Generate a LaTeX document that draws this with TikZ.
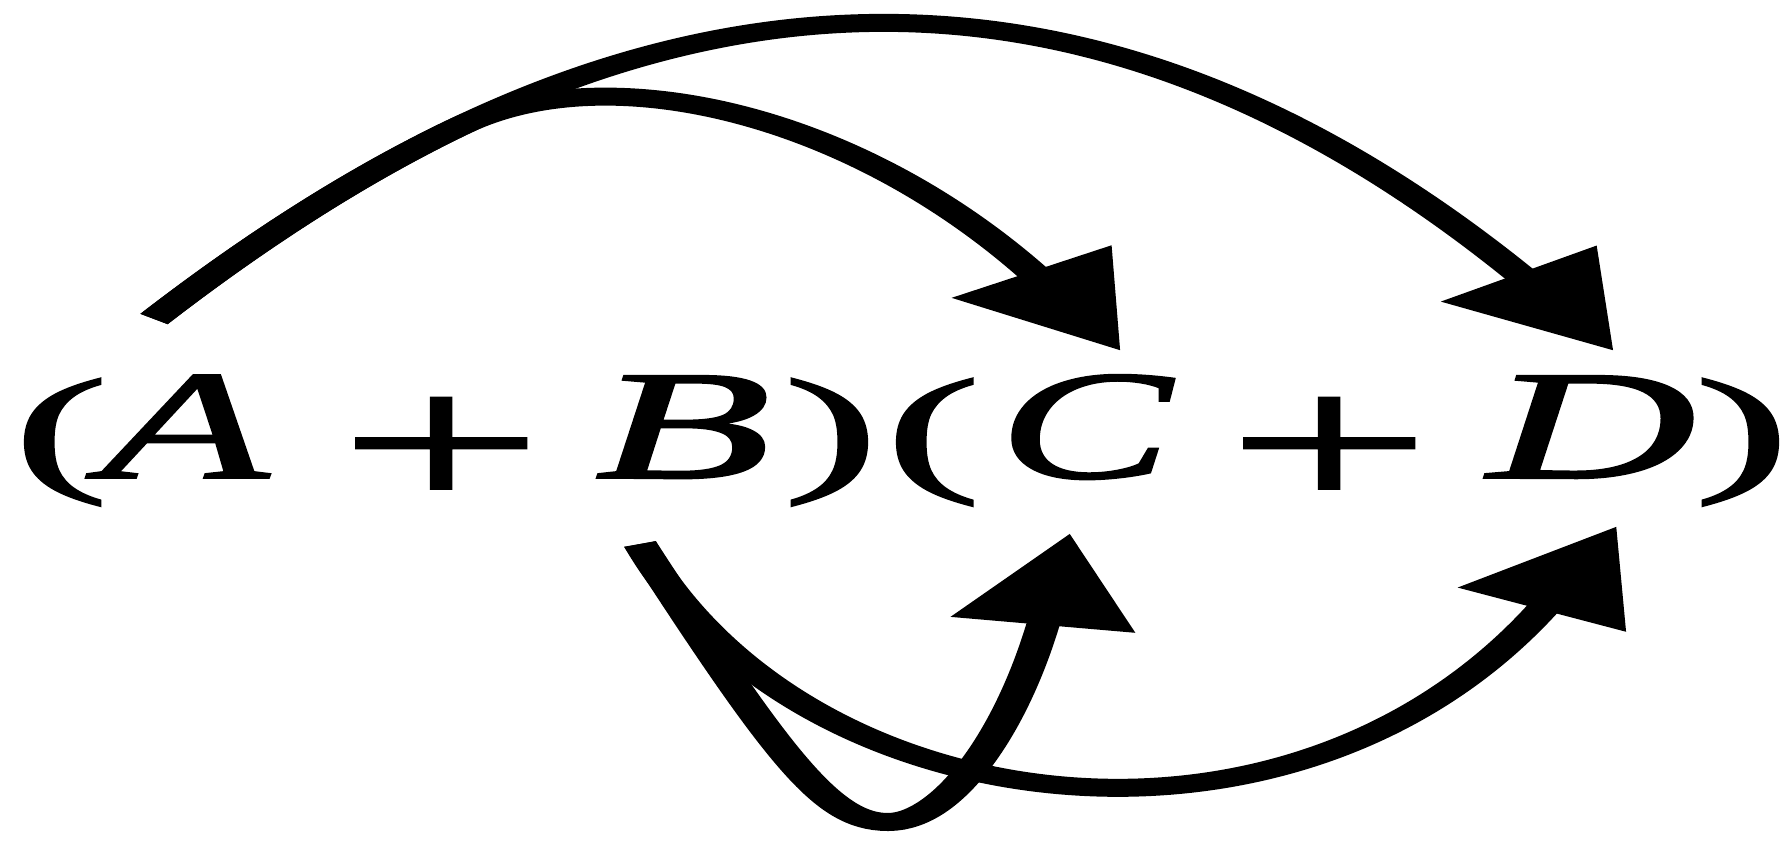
\documentclass[tikz,border=0pt]{standalone}
\usepackage{fontspec}
\setmainfont{Liberation Serif}[FakeBold=1.2]
\usetikzlibrary{arrows.meta}
\newcommand{\parglyph}[1]{\makebox[0.25em]{\scalebox{1}[0.9]{#1}}}
\begin{document}
\begin{tikzpicture}[x=1pt,y=-1pt]
\useasboundingbox[fill=white] (0,0) rectangle (1785,844);
\begin{scope}[transform canvas={xscale=1.85}, x=0.540541pt, y=-1pt,
  glyph/.style={anchor=base, inner sep=0pt, font=\fontsize{156}{160}\selectfont},
  conn/.style={line width=18pt, -{Triangle[length=93pt,width=96pt]}}]
  \node[glyph] (lpA) at (61,476) {\parglyph{(}};
  \node[glyph] (A) at (185,478) {\scalebox{0.95}[1]{\itshape A}};
  \node[glyph] (plusAB) at (441,508) {\scalebox{1.25}{+}};
  \node[glyph] (B) at (683,478) {\itshape B};
  \node[glyph] (rpB) at (831,476) {\parglyph{)}};
  \node[glyph] (lpC) at (933,476) {\parglyph{(}};
  \node[glyph] (C) at (1085,478) {\makebox[0.62em]{\scalebox{0.9}[1]{\itshape C}}};
  \node[glyph] (plusCD) at (1329,508) {\scalebox{1.25}{+}};
  \node[glyph] (D) at (1592,478) {\makebox[0.78em]{\itshape D}};
  \node[glyph] (rpD) at (1742,476) {\parglyph{)}};
  \coordinate (fromA) at (154,319);
  \coordinate (split) at (458,127);
  \coordinate (fromB) at (640,544);
  \coordinate (toCtop) at (1121,351);
  \coordinate (toDtop) at (1614,351);
  \coordinate (toCbot) at (1070,533);
  \coordinate (toDbot) at (1617,526);
  \draw[conn] (fromA) .. controls (259,238) and (360,174) .. (split)
                      .. controls (851,-62) and (1203,17) .. (toDtop);
  \draw[conn] (fromA) .. controls (259,238) and (360,174) .. (split)
                      .. controls (605,56) and (851,111) .. (toCtop);
  \draw[conn] (fromB) .. controls (781,761) and (828,822) .. (888,822)
                      .. controls (948,822) and (1011,733) .. (toCbot);
  \draw[conn] (fromB) .. controls (800,820) and (1290,890) .. (toDbot);
\end{scope}
\end{tikzpicture}
\end{document}
